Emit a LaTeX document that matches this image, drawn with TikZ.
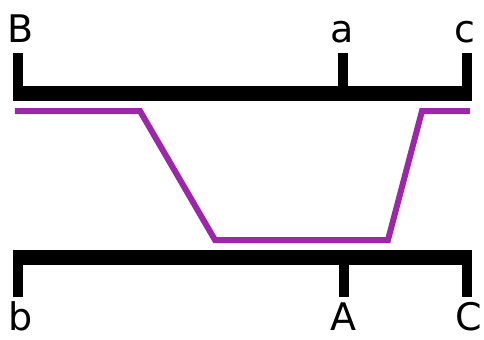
\documentclass[tikz,border=0pt]{standalone}
\usepackage{fontspec}
\setmainfont{DejaVu Sans}
\definecolor{linkpurple}{RGB}{156,39,168}
\tikzset{
  lbl/.style={anchor=base, inner sep=0pt, font=\fontsize{19}{22}\selectfont},
  bar/.style={line width=7.5pt},
  tick/.style={line width=5pt},
  link/.style={linkpurple, line width=3pt}
}
\begin{document}
\begin{tikzpicture}[x=0.5pt,y=-0.5pt]
\useasboundingbox (0,0) rectangle (484,339);

\node[lbl] (B) at (21,42) {B};
\node[lbl] (a) at (342,42) {a};
\node[lbl] (c) at (465,42) {c};
\coordinate (Bt) at (18,53);
\coordinate (at) at (343,53);
\coordinate (ct) at (467,53);
\coordinate (Bb) at (18,93);
\coordinate (ab) at (343,93);
\coordinate (cb) at (467,93);
\draw[bar] (13,93) -- (472,93);
\draw[tick] (Bt) -- (Bb);
\draw[tick] (at) -- (ab);
\draw[tick] (ct) -- (cb);
%top bar

\node[lbl] (b) at (21,330) {b};
\node[lbl] (A) at (343,330) {A};
\node[lbl] (C) at (469,330) {C};
\coordinate (bt) at (18,297);
\coordinate (At) at (344,297);
\coordinate (Ct) at (467,297);
\coordinate (bb) at (18,257);
\coordinate (Ab) at (344,257);
\coordinate (Cb) at (467,257);
\draw[bar] (13,257) -- (472,257);
\draw[tick] (bt) -- (bb);
\draw[tick] (At) -- (Ab);
\draw[tick] (Ct) -- (Cb);
%bottom bar

\draw[link] (15,111) -- (140,111) -- (215,240) -- (388,240) -- (422,111) -- (470,111);
%link
\end{tikzpicture}
\end{document}
